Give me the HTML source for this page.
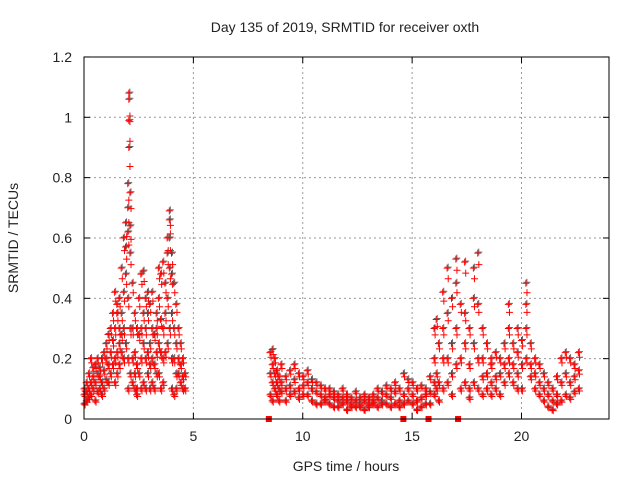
<!DOCTYPE html>
<html><head><meta charset="utf-8"><style>
body{margin:0;background:#fff}
text{font-family:"Liberation Sans",sans-serif;font-size:14px;fill:#222}
</style></head><body>
<svg id="c" width="640" height="480">
<text x="345" y="32" text-anchor="middle">Day 135 of 2019, SRMTID for receiver oxth</text>
<text x="346" y="471" text-anchor="middle">GPS time / hours</text>
<text transform="translate(18,238) rotate(-90)" text-anchor="middle">SRMTID / TECUs</text>
<g id="grid"></g><g id="pts"></g>
<rect x="84" y="57" width="525" height="362" fill="none" stroke="#000"/>
</svg>
<script>
const xTicks=[0,5,10,15,20];
const yTicks=[0,0.2,0.4,0.6,0.8,1,1.2];
const yTickLabels=["0","0.2","0.4","0.6","0.8","1","1.2"];
const gapMarks=[8.45,14.6,15.75,17.1];
const times=[0,0.1,0.2,0.3,0.4,0.5,0.6,0.7,0.8,0.9,1.0,1.1,1.2,1.3,1.4,1.5,1.6,1.7,1.8,1.9,2.0,2.05,2.1,2.2,2.3,2.4,2.5,2.6,2.7,2.8,2.9,3.0,3.1,3.2,3.3,3.4,3.5,3.6,3.7,3.8,3.9,4.0,4.1,4.2,4.3,4.4,4.5,4.6,
8.5,8.6,8.7,8.8,8.9,9.0,9.2,9.4,9.6,9.8,10.0,10.2,10.4,10.6,10.8,11.0,11.2,11.4,11.6,11.8,12.0,12.2,12.4,12.6,12.8,13.0,13.2,13.4,13.6,13.8,14.0,14.2,14.4,14.6,14.8,15.0,15.2,15.4,15.6,15.8,16.0,16.1,16.2,16.4,16.6,16.8,17.0,17.2,17.4,17.6,17.8,18.0,18.2,18.4,18.6,18.8,19.0,19.2,19.4,19.6,19.8,20.0,20.2,20.4,20.6,20.8,21.0,21.2,21.4,21.6,21.8,22.0,22.2,22.4,22.6];
const values=[[.08,.05,.1],[.06,.12,.09],[.1,.15,.07],[.2,.12,.08],[.1,.17,.14],[.12,.06,.18],[.15,.09,.2],[.1,.14,.17],[.12,.2,.08],[.16,.1,.22],[.2,.13,.25],[.18,.12,.28],[.22,.15,.3],[.26,.18,.35],[.3,.2,.42,.12],[.35,.22,.38,.15],[.4,.25,.3,.18],[.5,.35,.22,.28],[.6,.42,.3,.2],[.57,.65,.48,.25],[.7,.78,.62,.4,.2,.1],[1.08,1.06,.99,.9],[.75,.64,.55,.3,.15],[.45,.3,.2,.12],[.35,.22,.15,.1],[.3,.18,.1,.08],[.4,.28,.15],[.48,.3,.2,.1],[.49,.35,.25,.12],[.3,.2,.1,.4],[.35,.22,.15,.42],[.38,.25,.18,.1],[.42,.3,.2,.12],[.28,.18,.1],[.3,.22,.15,.35],[.5,.4,.25,.15],[.48,.33,.22,.1],[.52,.3,.2,.12],[.45,.35,.22],[.6,.55,.4,.25],[.69,.66,.6,.5,.3],[.55,.48,.35,.2,.1],[.45,.3,.2,.08],[.38,.25,.15,.1],[.3,.2,.15],[.25,.18,.12],[.2,.14,.1],[.15,.1],
[.22,.15,.08],[.18,.12,.06,.23],[.15,.1,.2],[.12,.08,.16],[.1,.14,.06],[.12,.09,.18],[.14,.1,.06],[.16,.11,.08],[.13,.09,.18],[.15,.1,.07],[.14,.11,.08],[.12,.08,.16],[.1,.06,.13],[.09,.05,.12],[.08,.05,.11],[.1,.06,.07],[.08,.05,.1],[.07,.04,.09],[.06,.04,.08],[.07,.05,.1],[.06,.03,.08],[.05,.04,.07],[.06,.04,.09],[.07,.05,.04],[.06,.03,.08],[.05,.04,.07],[.08,.05,.06],[.07,.04,.1],[.06,.05,.09],[.08,.05,.11],[.07,.04,.1],[.09,.05,.12],[.06,.04,.1],[.15,.08,.05],[.1,.06,.13],[.08,.05,.12],[.06,.03,.1],[.07,.04,.11],[.05,.08,.1],[.09,.05,.14],[.12,.08,.2,.3],[.33,.15,.1],[.25,.12,.06],[.42,.3,.2,.1],[.5,.35,.2,.12],[.4,.25,.15,.08],[.53,.45,.3,.18],[.38,.2,.1],[.52,.35,.25,.12],[.3,.18,.1,.07],[.5,.4,.25,.12],[.55,.38,.2,.1],[.3,.2,.14,.08],[.25,.15,.1],[.2,.12,.08,.18],[.22,.14,.1],[.2,.15,.08],[.25,.18,.12],[.38,.3,.2,.15],[.25,.18,.12],[.3,.22,.15,.1],[.26,.18,.1],[.45,.38,.3,.2],[.25,.18,.14],[.2,.15,.1],[.18,.12,.08],[.15,.1,.06],[.12,.08,.04],[.1,.06,.03],[.14,.08,.05],[.2,.12,.06],[.22,.15,.08],[.2,.12,.07],[.18,.14,.09],[.22,.16,.1]];
const NS="http://www.w3.org/2000/svg";
const X=t=>84+t*21.875, Y=v=>419-v*301.7;
function mk(tag,at,parent){const e=document.createElementNS(NS,tag);for(const k in at)e.setAttribute(k,at[k]);parent.appendChild(e);return e;}
const grid=document.getElementById('grid'),pts=document.getElementById('pts');
xTicks.forEach(t=>{const x=X(t);
 if(t>0){const l=mk('line',{x1:x,x2:x,y1:57,y2:419,stroke:'#999','stroke-dasharray':'2,3'},grid);
 
 }
 mk('line',{x1:x,x2:x,y1:419,y2:413,stroke:'#000'},grid);mk('line',{x1:x,x2:x,y1:57,y2:63,stroke:'#000'},grid);
 const tx=mk('text',{x:x,y:441,'text-anchor':'middle'},grid);tx.textContent=t;
 
 });
yTicks.forEach((v,i)=>{const y=Y(v);
 if(i>0&&i<yTicks.length-1){const l=mk('line',{x1:84,x2:609,y1:y,y2:y,stroke:'#999','stroke-dasharray':'2,3'},grid);
 
 }
 mk('line',{x1:84,x2:90,y1:y,y2:y,stroke:'#000'},grid);mk('line',{x1:609,x2:603,y1:y,y2:y,stroke:'#000'},grid);
 const tx=mk('text',{x:72,y:y+5,'text-anchor':'end'},grid);tx.textContent=yTickLabels[i];
 
 });
function plus(x,y,c){const p=mk('path',{d:`M${x-3.5},${y}h7M${x},${y-3.5}v7`,stroke:c,'stroke-width':1},pts);return p;}
times.forEach((t,i)=>values[i].forEach(v=>{
 const g=plus(X(t)+1,Y(v)-1,'#666');
 
 
 const p=plus(X(t),Y(v),'#f00');
 
 
 const q=plus(X(t+0.05),Y(v*0.93),'#f00');
 
 }));
gapMarks.forEach(t=>{const r=mk('rect',{x:X(t)-3,y:416,width:6,height:6,fill:'#f00'},pts);
 
 });
</script>
</body></html>
